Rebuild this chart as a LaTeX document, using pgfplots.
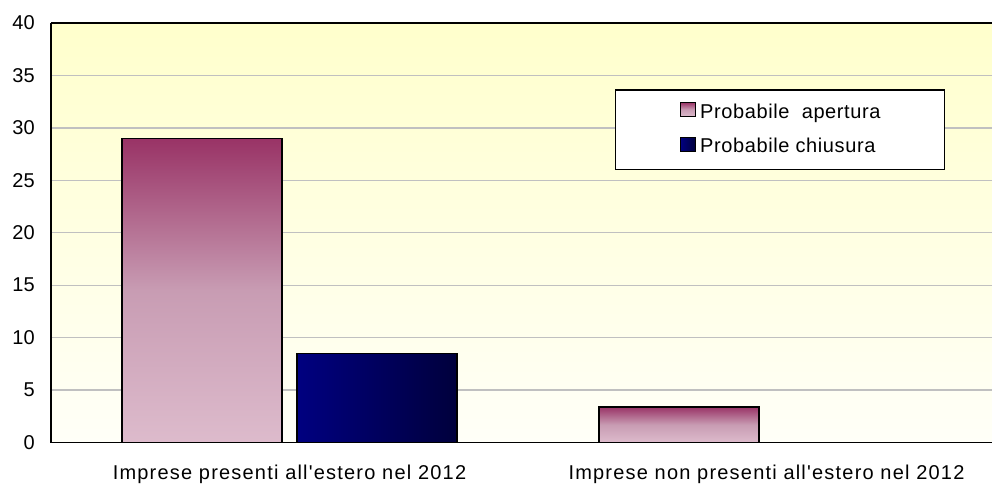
\documentclass[border=0pt]{standalone}
\usepackage{fontspec}
\setmainfont{Liberation Sans}
\newfontfamily\catfont[LetterSpace=6]{Liberation Sans}
\newfontfamily\legfont[LetterSpace=3]{Liberation Sans}
\usepackage{pgfplots}
\pgfplotsset{compat=1.18}
\definecolor{bgtop}{HTML}{FFFFCC}
\definecolor{bgbot}{HTML}{FFFFF8}
\definecolor{pinktop}{HTML}{993366}
\definecolor{pinkmid}{HTML}{C89CB3}
\definecolor{pinkbot}{HTML}{DDBBCC}
\definecolor{bluel}{HTML}{000080}
\definecolor{bluer}{HTML}{00003C}
\definecolor{gridc}{HTML}{C0C0C0}
\begin{document}
\begin{tikzpicture}[font=\fontsize{15}{18}\selectfont]
\begin{axis}[
  at={(0,0)}, anchor=south west,
  scale only axis, width=715.5pt, height=314.625pt,
  xmin=-0.5, xmax=1.5, ymin=0, ymax=40,
  ytick={0,5,...,40}, xtick={0,1},
  xticklabels={Imprese presenti all'estero nel 2012, Imprese non presenti all'estero nel 2012},
  /pgf/number format/assume math mode=true,
  ymajorgrids, major grid style={gridc, line width=1pt},
  major tick length=0pt,
  axis x line*=box, axis y line*=left,
  axis line style={black, line width=1.3pt},
  axis background/.style={top color=bgtop, bottom color=bgbot},
  yticklabel style={inner sep=0pt, xshift=-12pt},
  xticklabel style={font=\catfont\fontsize{15}{18}\selectfont, inner sep=0pt, anchor=north, yshift=-16.5pt},
  ybar, bar width=120pt,
  legend image code/.code={\draw[#1] (0pt,0pt) rectangle (11.25pt,10.5pt);},
  legend cell align=left,
  legend style={at={(0.5912,0.842)}, anchor=north west, draw=black, line width=1.1pt, fill=white,
    inner xsep=48pt, inner ysep=8.85pt, row sep=10.2pt, column sep=3pt,
    font=\legfont\fontsize{15}{18}\selectfont,
    nodes={inner sep=0pt, text depth=0.37em, text height=0.6em}},
]
\addplot[draw=black, line width=1.1pt, bar shift=-65.625pt, top color=pinktop, bottom color=pinkbot, middle color=pinkmid] coordinates {(0,29)};
\addplot[forget plot, draw=black, line width=1.1pt, bar shift=-65.625pt, top color=pinktop, bottom color=pinkbot, middle color=pinkmid] coordinates {(1,3.4)};
\addplot[draw=black, line width=1.1pt, bar shift=65.625pt, left color=bluel, right color=bluer] coordinates {(0,8.5)};
\legend{Probabile\ \ apertura, Probabile chiusura}
\end{axis}
\pgfresetboundingbox
\path[use as bounding box] (-38.25pt,-30.375pt) rectangle (705.75pt,331.875pt);
\end{tikzpicture}
\end{document}
